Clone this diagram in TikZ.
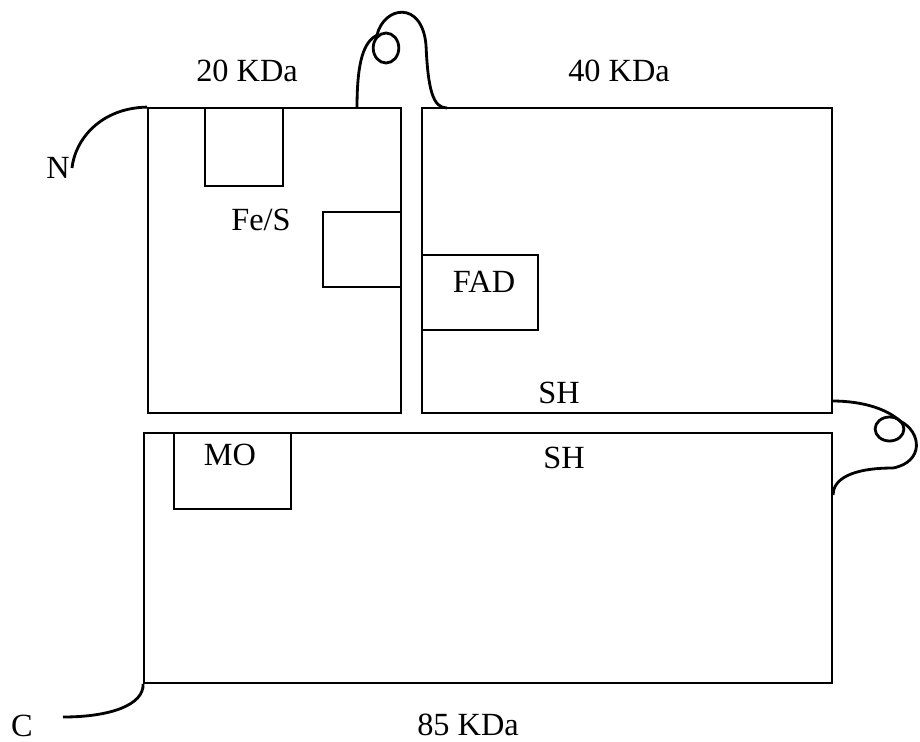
\documentclass[tikz,border=0pt]{standalone}
\usepackage{fontspec}
\setmainfont{Liberation Serif}
\usetikzlibrary{
    calc,
    fit
}
\tikzset{
  every path/.style={
    black,
    line width=1.3pt
  },
  every node/.style={
    inner sep=0pt,
    font=\fontsize{23}{27}\selectfont
  },
  domain/.style={draw,fit={#1},inner sep=0pt},
  peptide/.style={line width=2pt}
}

\begin{document}
\begin{tikzpicture}[x=0.025cm,y=-0.025cm]
    \useasboundingbox (0,0) rectangle (920,742);

    % サブユニット
    \node[domain={(148,108) (401,413)}] (sub20) {};
    \node[domain={(422,108) (832,413)}] (sub40) {};
    \node[domain={(144,433) (832,683)}] (sub85) {};

    % 補欠分子族の結合部位
    \node[domain={(205,108) (283,186)}] (site20) {};
    \node[domain={(323,212) (401,287)}] (siteFeS) {};
    \node[domain={(422,255) (538,330)}] (siteFAD) {};
    \node[domain={(174,433) (291,509)}] (siteMO) {};

    % ラベル
    \node[anchor=base] (kda20) at (247,82) {20 KDa};
    \node[anchor=base] (kda40) at (619,82) {40 KDa};
    \node[anchor=base] (kda85) at (468,735) {85 KDa};
    \node[anchor=base] (labFeS) at (261,230) {Fe/S};
    \node[anchor=base] (labFAD) at (484,292) {FAD};
    \node[anchor=base] (labMO) at (230,465) {MO};
    \node[anchor=base] (labSHa) at (559,403) {SH};
    \node[anchor=base] (labSHb) at (564,468) {SH};
    \node[anchor=base] (labN) at (58,178) {N};
    \node[anchor=base] (labC) at (22,736) {C};

    % 末端とリンカー
    \coordinate (nEnd) at (72,168);
    \coordinate (cEnd) at (63,717);
    \coordinate (linkA) at (357,108);
    \coordinate (linkB) at (447,108);
    \coordinate (linkC) at (832,401);
    \coordinate (linkD) at (833,495);

    \draw[peptide] (sub20.north west) .. controls (100,108) and (75,140) .. (nEnd);
    \draw[peptide] (sub85.south west) .. controls (144,705) and (110,717) .. (cEnd);

    \draw[peptide] (linkA) .. controls (357,60) and (364,42) .. (377,35)
        .. controls (384,6) and (422,0) .. (426,45)
        .. controls (428,90) and (433,108) .. (linkB);
    \draw[peptide] (386,48) ellipse [x radius=0.32cm,y radius=0.375cm];

    \draw[peptide] (linkC) .. controls (865,401) and (888,410) .. (900,421)
        .. controls (922,432) and (924,462) .. (893,468)
        .. controls (850,468) and (833,480) .. (linkD);
    \draw[peptide] (889.5,429) ellipse [x radius=0.36cm,y radius=0.3cm];
\end{tikzpicture}
\end{document}
